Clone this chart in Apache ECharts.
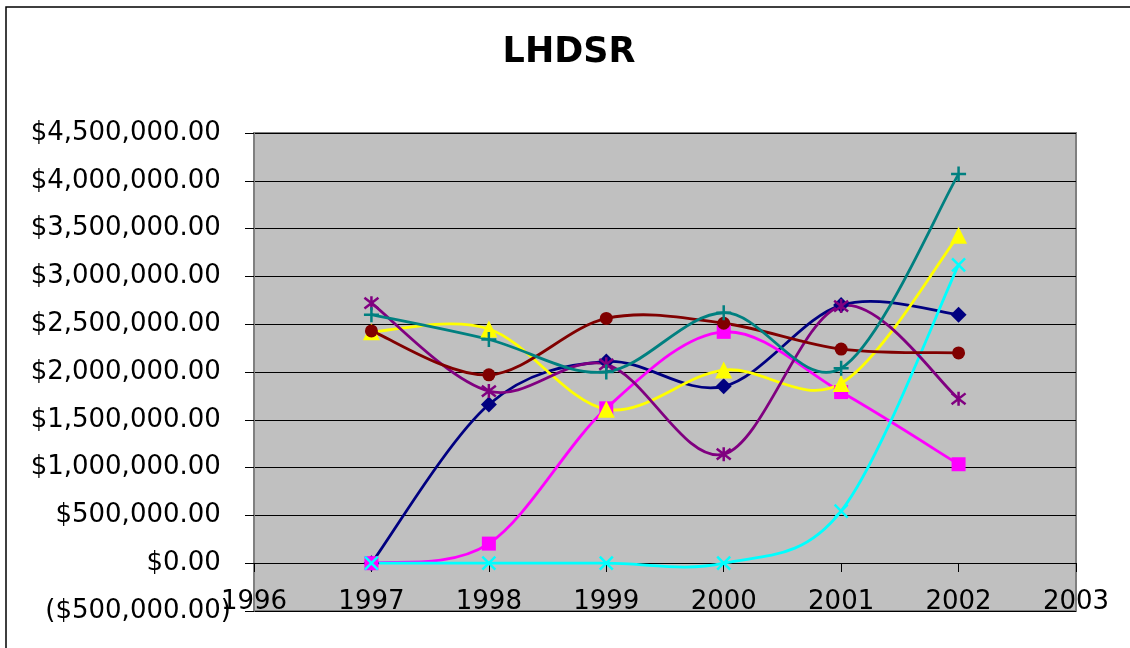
<!DOCTYPE html>
<html>
<head>
<meta charset="utf-8">
<script src="https://cdn.jsdelivr.net/npm/echarts@6/dist/echarts.min.js"></script>
<style>
  html, body { margin: 0; padding: 0; background: #fff; }
  #main { width: 1130px; height: 648px; }
</style>
</head>
<body>
<div id="main"></div>
<script>
// data
var years = [1997, 1998, 1999, 2000, 2001, 2002];
var navy    = [0, 1660000, 2110000, 1850000, 2700000, 2600000];
var magenta = [0, 205000, 1620000, 2420000, 1790000, 1035000];
var yellow  = [2420000, 2450000, 1610000, 2020000, 1880000, 3430000];
var cyan    = [0, 0, 0, 0, 545000, 3120000];
var purple  = [2720000, 1800000, 2080000, 1140000, 2690000, 1720000];
var brown   = [2430000, 1970000, 2560000, 2510000, 2240000, 2200000];
var teal    = [2600000, 2340000, 2000000, 2620000, 2040000, 4070000];

var font = 'DejaVu Sans';

function pairs(vals) {
	var out = [];
	for (var i = 0; i < years.length; i++) out.push([years[i], vals[i]]);
	return out;
}

// excel style number format: $#,##0.00_);($#,##0.00)
function money(v) {
	var s = Math.abs(v).toFixed(2).replace(/\B(?=(\d{3})+(?!\d))/g, ',');
	return v < 0 ? '($' + s + ')' : '$' + s + '{h|)}';
}

// smoothed line like excel draws it (bezier, tangent = (next - prev) / 6)
function curve(vals, color) {
	return {
		type: 'custom',
		data: [[years[0], vals[0]]],
		silent: true,
		z: 2,
		renderItem: function (params, api) {
			var p = [];
			for (var i = 0; i < years.length; i++) p.push(api.coord([years[i], vals[i]]));
			var n = p.length;
			var d = 'M' + p[0][0] + ',' + p[0][1];
			for (var j = 0; j < n - 1; j++) {
				var p0 = p[Math.max(j - 1, 0)], p1 = p[j], p2 = p[j + 1], p3 = p[Math.min(j + 2, n - 1)];
				var c1x = p1[0] + (p2[0] - p0[0]) / 6, c1y = p1[1] + (p2[1] - p0[1]) / 6;
				var c2x = p2[0] - (p3[0] - p1[0]) / 6, c2y = p2[1] - (p3[1] - p1[1]) / 6;
				d += 'C' + c1x + ',' + c1y + ',' + c2x + ',' + c2y + ',' + p2[0] + ',' + p2[1];
			}
			return {
				type: 'path',
				shape: { pathData: d },
				style: { fill: 'none', stroke: color, lineWidth: 2.8 }
			};
		}
	};
}

function marks(vals, color, symbol, size, stroke) {
	return {
		type: 'line',
		data: pairs(vals),
		symbol: symbol,
		symbolSize: size,
		showSymbol: true,
		lineStyle: { width: 0, opacity: 0 },
		itemStyle: { color: color, borderColor: color, borderWidth: stroke ? 2.5 : 0 },
		emphasis: { disabled: true },
		z: 3
	};
}

var xMark = 'path://M0,0L10,10M10,0L0,10';
var starMark = 'path://M0,0L10,10M10,0L0,10M5,-1.5L5,11.5';
var plusMark = 'path://M5,0L5,10M0,5L10,5';

var myChart = echarts.init(document.getElementById('main'));
var option = {
	animation: false,
	backgroundColor: '#fff',
	title: {
		text: 'LHDSR',
		left: 564,
		textAlign: 'center',
		top: 30,
		textStyle: { fontFamily: font, fontSize: 35, fontWeight: 'bold', color: '#000' }
	},
	graphic: [{
		type: 'rect',
		shape: { x: 6, y: 7, width: 1300, height: 800 },
		style: { fill: 'none', stroke: '#000', lineWidth: 1.5 },
		silent: true
	}],
	grid: {
		left: 254,
		right: 54,
		top: 133,
		bottom: 37,
		containLabel: false,
		outerBoundsMode: 'none',
		show: true,
		backgroundColor: '#C0C0C0',
		borderColor: '#808080',
		borderWidth: 2
	},
	xAxis: {
		type: 'value',
		min: 1996,
		max: 2003,
		interval: 1,
		position: 'bottom',
		offset: -48,
		axisLine: { onZero: false, lineStyle: { color: '#000', width: 1 } },
		axisTick: { show: true, length: 9, lineStyle: { color: '#000' } },
		axisLabel: {
			margin: 26, fontFamily: font, fontSize: 26, color: '#000',
			formatter: function (v) { return String(v); }
		},
		splitLine: { show: false }
	},
	yAxis: {
		type: 'value',
		min: -500000,
		max: 4500000,
		interval: 500000,
		axisLine: { show: true, onZero: false, lineStyle: { color: '#808080', width: 2 } },
		axisTick: { show: true, length: 9, lineStyle: { color: '#000' } },
		axisLabel: {
			margin: 23, fontFamily: font, fontSize: 26, color: '#000', formatter: money,
			rich: { h: { fontFamily: font, fontSize: 26, color: 'rgba(0,0,0,0)' } }
		},
		splitLine: { show: true, lineStyle: { color: '#000', width: 1 } }
	},
	series: [
		curve(navy, '#000080'),
		curve(magenta, '#FF00FF'),
		curve(yellow, '#FFFF00'),
		curve(cyan, '#00FFFF'),
		curve(purple, '#800080'),
		curve(brown, '#800000'),
		curve(teal, '#008080'),
		marks(navy, '#000080', 'diamond', 16, false),
		marks(magenta, '#FF00FF', 'rect', 14, false),
		marks(yellow, '#FFFF00', 'triangle', 17, false),
		marks(cyan, '#00FFFF', xMark, 13, true),
		marks(purple, '#800080', starMark, 14, true),
		marks(brown, '#800000', 'circle', 13, false),
		marks(teal, '#008080', plusMark, 15, true)
	]
};
myChart.setOption(option);
</script>
</body>
</html>
